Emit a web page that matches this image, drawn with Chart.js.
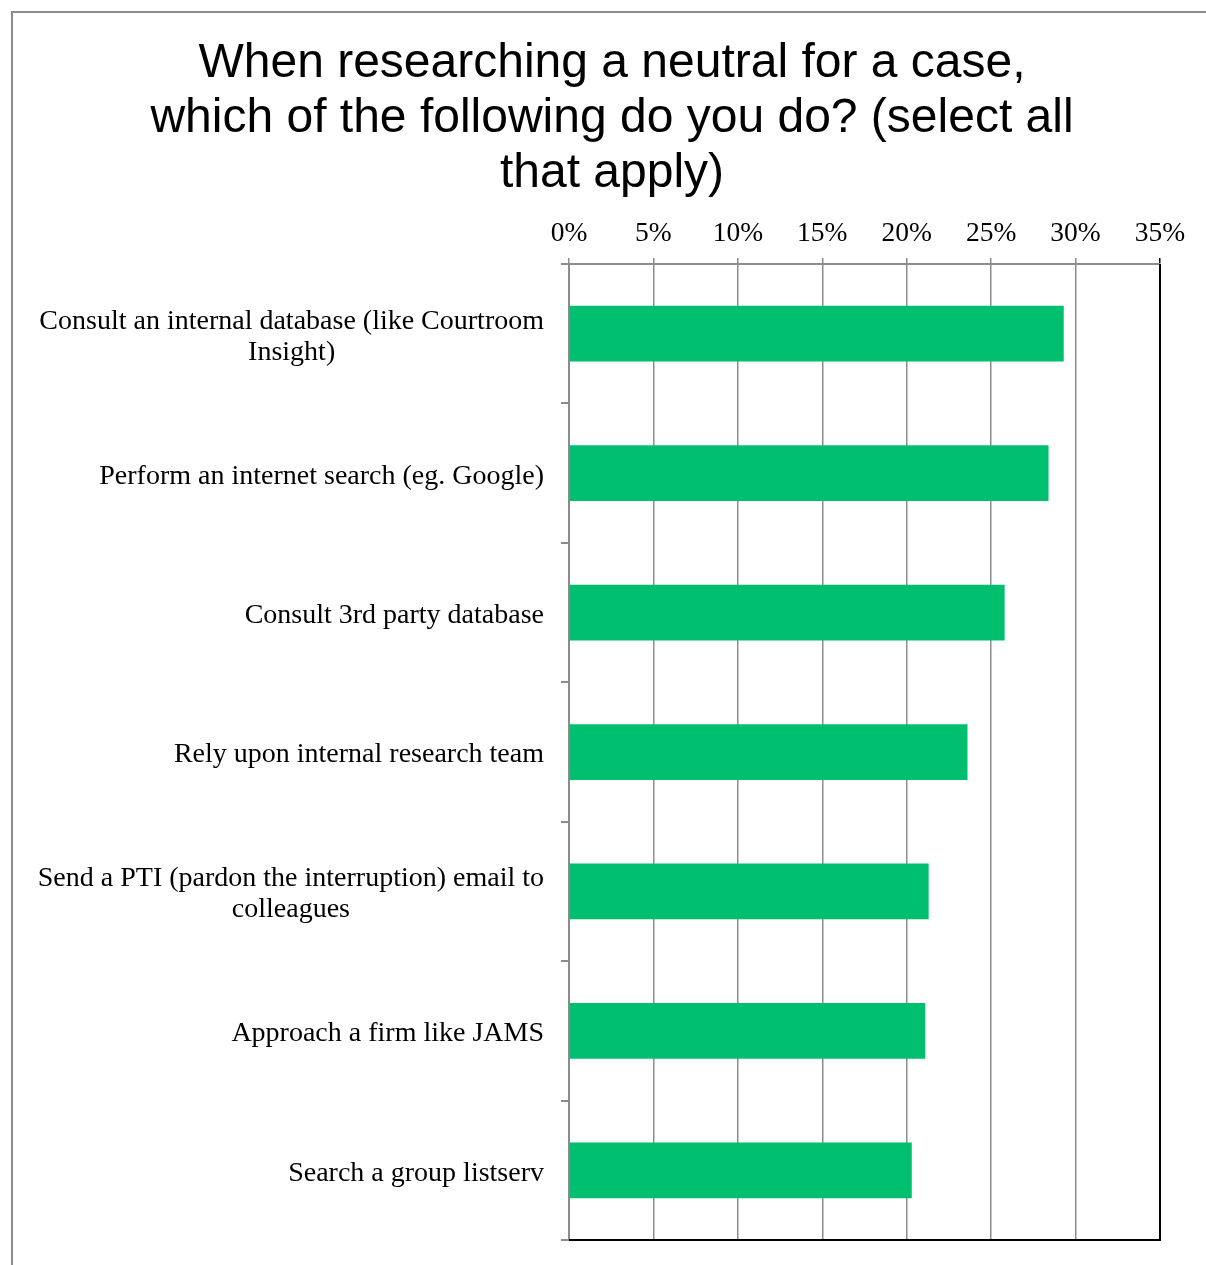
<!DOCTYPE html>
<html>
<head>
<meta charset="utf-8">
<script src="https://cdn.jsdelivr.net/npm/chart.js@4.4.1/dist/chart.umd.min.js"></script>
<style>
    html, body { margin: 0; padding: 0; background: #fff; overflow: hidden; }
    #frame {
        position: absolute; left: 11px; top: 11px; width: 1300px; height: 1300px;
        border-left: 2px solid #8c8c8c; border-top: 2px solid #8c8c8c;
    }
    #chart { position: absolute; left: 0; top: 0; }
</style>
</head>
<body>
<div id="frame"></div>
<canvas id="chart" width="1224" height="1265"></canvas>
<script>
const titleLines = [
    "When researching a neutral for a case,",
    "which of the following do you do? (select all",
    "that apply)",
];

// each category is a list of wrapped lines
const categories = [
    ["Consult an internal database (like Courtroom", "Insight)"],
    ["Perform an internet search (eg. Google)"],
    ["Consult 3rd party database"],
    ["Rely upon internal research team"],
    ["Send a PTI (pardon the interruption) email to", "colleagues"],
    ["Approach a firm like JAMS"],
    ["Search a group listserv"],
];

const percentages = [29.3, 28.4, 25.8, 23.6, 21.3, 21.1, 20.3];

const xMin = 0;
const xMax = 35;
const xStep = 5;

const labelFont = "28px 'Liberation Serif'";
const labelLineHeight = 31;

/**
 * Draws the category labels: block right aligned to the axis,
 * each line centered on the widest line (like Excel does).
 */
const categoryLabels = {
    id: "categoryLabels",
    afterDraw(chart) {
        const ctx = chart.ctx;
        const yScale = chart.scales.y;
        const right = chart.chartArea.left - 25;
        ctx.save();
        ctx.font = labelFont;
        ctx.fillStyle = "#000";
        ctx.textAlign = "center";
        ctx.textBaseline = "middle";
        categories.forEach((lines, i) => {
            const y = yScale.getPixelForValue(i) + 3;
            const maxW = Math.max(...lines.map((l) => ctx.measureText(l).width));
            const cx = right - maxW / 2;
            const top = y - ((lines.length - 1) * labelLineHeight) / 2;
            lines.forEach((line, j) => {
                ctx.fillText(line, cx, top + j * labelLineHeight);
            });
        });
        ctx.restore();
    },
};

// black right and bottom edge of the plot area
const plotEdges = {
    id: "plotEdges",
    afterDraw(chart) {
        const { left, right, bottom, top } = chart.chartArea;
        const ctx = chart.ctx;
        ctx.save();
        ctx.strokeStyle = "#000";
        ctx.lineWidth = 2;
        ctx.beginPath();
        ctx.moveTo(left, bottom);
        ctx.lineTo(right, bottom);
        ctx.lineTo(right, top);
        ctx.stroke();
        ctx.restore();
    },
};

new Chart(document.getElementById("chart").getContext("2d"), {
    type: "bar",
    data: {
        labels: categories,
        datasets: [
            {
                data: percentages,
                backgroundColor: "#00c06f",
                categoryPercentage: 0.4,
                barPercentage: 1,
            },
        ],
    },
    plugins: [categoryLabels, plotEdges],
    options: {
        indexAxis: "y",
        responsive: false,
        animation: false,
        layout: {
            padding: { left: 64, right: 64, top: 0, bottom: 25 },
        },
        plugins: {
            legend: { display: false },
            tooltip: { enabled: false },
            title: {
                display: true,
                text: titleLines,
                color: "#000",
                font: { family: "'Liberation Sans', Arial, sans-serif", size: 48, weight: "normal", lineHeight: 1.146 },
                padding: { top: 36, bottom: 0 },
            },
        },
        scales: {
            x: {
                position: "top",
                min: xMin,
                max: xMax,
                afterFit: (scale) => {
                    scale.height = 63;
                },
                ticks: {
                    stepSize: xStep,
                    color: "#000",
                    font: { family: "'Liberation Serif', serif", size: 27.5 },
                    padding: 8,
                    callback: (v) => v + "%",
                },
                grid: {
                    color: (c) => (c.tick && c.tick.value === xMax ? "#000" : "#8c8c8c"),
                    lineWidth: 1.5,
                    tickLength: 6,
                },
                border: { color: "#8c8c8c", width: 2 },
            },
            y: {
                afterFit: (scale) => {
                    scale.width = 505;
                },
                ticks: { display: false },
                grid: {
                    offset: true,
                    drawOnChartArea: false,
                    drawTicks: true,
                    tickLength: 8,
                    color: "#8c8c8c",
                    lineWidth: 2,
                },
                border: { color: "#8c8c8c", width: 2 },
            },
        },
    },
});
</script>
</body>
</html>
